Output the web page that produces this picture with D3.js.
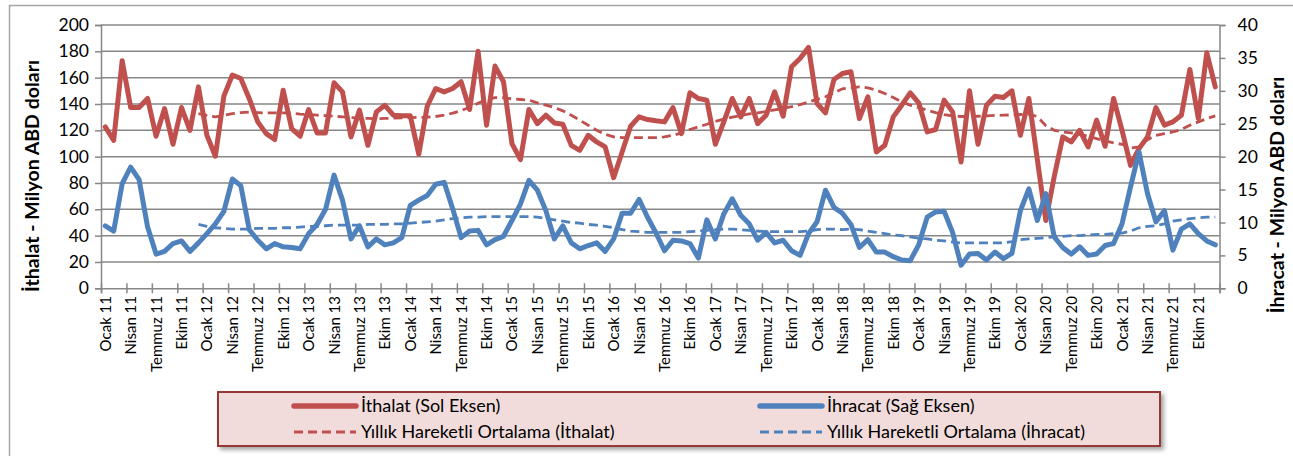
<!DOCTYPE html>
<html>
<head>
<meta charset="utf-8">
<script src="https://cdn.jsdelivr.net/npm/d3@7/dist/d3.min.js"></script>
<style>
  body { margin: 0; background: #fff; }
  svg { display: block; }
  text { font-family: Lato, "Open Sans", sans-serif; fill: #000; }
</style>
</head>
<body>
<svg id="chart" width="1293" height="456"></svg>
<script>
'use strict';

// monthly categories, Ocak 2011 .. Aralık 2021
const aylar = ["Ocak", "Şubat", "Mart", "Nisan", "Mayıs", "Haziran", "Temmuz", "Ağustos", "Eylül", "Ekim", "Kasım", "Aralık"];
const yillar = ["11", "12", "13", "14", "15", "16", "17", "18", "19", "20", "21"];

// İthalat, milyon ABD doları (sol eksen)
const ithalat = [
  122.6, 112.4, 172.8, 137.3, 137.3, 144.2, 115.5, 136.5, 109.4, 137.3, 120.0, 153.0,
  116.2, 100.3, 146.0, 162.0, 159.4, 144.0, 126.4, 117.5, 113.0, 150.5, 121.3, 115.5,
  135.8, 118.0, 118.0, 156.1, 149.2, 115.0, 135.3, 108.6, 134.0, 139.0, 131.5, 131.0,
  131.0, 101.8, 138.3, 151.8, 149.2, 151.8, 156.9, 135.8, 180.0, 123.9, 168.8, 156.9,
  109.9, 97.7, 135.8, 125.1, 131.5, 125.6, 124.6, 108.6, 104.8, 116.2, 111.2, 107.4,
  84.0, 103.6, 123.1, 130.2, 128.2, 127.2, 126.4, 137.3, 117.5, 148.5, 144.2, 142.9,
  109.4, 126.4, 144.2, 130.2, 144.2, 125.1, 131.5, 149.2, 130.7, 168.3, 174.6, 183.0,
  140.4, 133.2, 158.6, 163.2, 164.5, 128.9, 145.4, 103.6, 108.6, 130.2, 139.1, 148.5,
  140.9, 118.8, 120.6, 142.9, 134.0, 95.9, 150.0, 109.4, 139.1, 145.9, 144.9, 150.0,
  116.2, 144.2, 98.0, 51.5, 85.0, 115.0, 111.2, 120.0, 107.4, 127.7, 107.9, 144.2,
  120.0, 93.4, 106.1, 115.0, 137.3, 123.9, 126.4, 131.5, 166.2, 128.9, 178.9, 153.0
];

// İhracat, milyon ABD doları (sağ eksen)
const ihracat = [
  9.5, 8.7, 15.9, 18.4, 16.5, 9.3, 5.2, 5.6, 6.8, 7.2, 5.6, 6.9,
  8.3, 9.8, 11.7, 16.6, 15.6, 8.9, 7.3, 6.0, 6.8, 6.3, 6.2, 6.0,
  8.3, 9.7, 12.0, 17.2, 13.4, 7.5, 9.5, 6.3, 7.5, 6.6, 6.9, 7.7,
  12.6, 13.4, 14.1, 15.8, 16.1, 12.1, 7.7, 8.7, 8.8, 6.6, 7.4, 7.9,
  10.3, 12.8, 16.4, 14.9, 11.8, 7.5, 9.5, 6.9, 6.0, 6.5, 6.9, 5.6,
  7.5, 11.4, 11.4, 13.5, 10.8, 8.4, 5.7, 7.3, 7.2, 6.8, 4.6, 10.4,
  7.5, 11.3, 13.6, 11.1, 9.8, 7.3, 8.5, 6.9, 7.3, 5.7, 5.0, 8.3,
  10.1, 14.9, 12.3, 11.4, 9.7, 6.2, 7.4, 5.5, 5.5, 4.8, 4.3, 4.2,
  6.6, 10.8, 11.6, 11.7, 8.5, 3.5, 5.2, 5.3, 4.3, 5.5, 4.5, 5.3,
  11.8, 15.1, 10.3, 14.4, 7.8, 6.2, 5.2, 6.3, 5.0, 5.2, 6.5, 6.8,
  9.8, 15.4, 20.7, 14.4, 10.1, 11.8, 5.8, 9.0, 9.8, 8.3, 7.2, 6.6
];

// yıllık hareketli ortalamalar, Aralık 2011'den başlar
const maBaslangic = 11;
const ithalatOrt = [
  132.7,
  131.3, 130.3, 131.3, 132.7, 133.5, 133.9, 133.5, 133.2, 133.2, 133.2, 133.0, 132.3,
  132.0, 131.5, 131.2, 130.7, 130.2, 129.7, 129.3, 129.0, 128.8, 129.0, 129.3, 129.5,
  129.7, 129.8, 130.0, 130.5, 131.5, 133.0, 135.0, 137.5, 140.5, 143.4, 144.9, 144.7,
  143.9, 143.4, 142.9, 140.9, 139.1, 137.3, 134.8, 131.5, 127.7, 123.9, 120.0, 117.0,
  115.0, 114.5, 114.5, 114.5, 114.5, 114.5, 115.0, 116.2, 118.0, 120.6, 122.6, 124.6,
  126.8, 128.5, 130.0, 131.3, 132.5, 133.3, 134.3, 135.5, 136.7, 138.0, 139.5, 141.5,
  143.5, 145.5, 148.5, 151.5, 152.3, 153.0, 152.3, 150.5, 148.0, 144.9, 141.6, 139.1,
  137.3, 135.3, 133.5, 132.0, 131.0, 130.5, 130.5, 130.7, 131.0, 131.3, 131.5, 131.7,
  132.0, 132.3, 130.5, 123.5, 120.0, 118.8, 118.0, 117.0, 115.5, 113.7, 111.9, 110.4,
  109.4, 106.6, 107.4, 112.9, 116.2, 117.5, 118.8, 120.6, 123.9, 126.4, 128.9, 131.0
];
const ihracatOrt = [
  9.7,
  9.4, 9.2, 9.1, 9.0, 9.0, 9.0, 9.1, 9.1, 9.1, 9.2, 9.2, 9.3,
  9.4, 9.4, 9.5, 9.6, 9.6, 9.6, 9.6, 9.7, 9.7, 9.7, 9.8, 9.8,
  9.9, 10.0, 10.1, 10.2, 10.4, 10.6, 10.7, 10.8, 10.8, 10.9, 10.9, 10.9,
  10.9, 10.9, 10.9, 10.8, 10.6, 10.4, 10.2, 10.0, 9.9, 9.7, 9.6, 9.4,
  9.2, 8.9, 8.7, 8.6, 8.5, 8.5, 8.5, 8.5, 8.5, 8.6, 8.7, 8.8,
  8.9, 9.0, 9.0, 8.9, 8.8, 8.7, 8.6, 8.6, 8.6, 8.6, 8.6, 8.7,
  8.9, 9.0, 9.0, 8.9, 9.0, 8.9, 8.7, 8.5, 8.3, 8.1, 8.0, 7.8,
  7.6, 7.5, 7.3, 7.2, 7.0, 6.9, 6.9, 6.9, 6.9, 6.9, 6.9, 7.1,
  7.4, 7.5, 7.6, 7.7, 7.8, 7.9, 8.0, 8.0, 8.1, 8.2, 8.2, 8.3,
  8.4, 8.7, 9.2, 9.4, 9.5, 9.8, 10.2, 10.4, 10.6, 10.7, 10.8, 10.8
];

const solTikler = d3.range(0, 201, 20);
const sagTikler = d3.range(0, 41, 5);

const kategoriler = [];
yillar.forEach(y => aylar.forEach(a => kategoriler.push(a + " " + y)));

const kirmizi = "#C0504D", mavi = "#4F81BD", izgara = "#878787";

const svg = d3.select("#chart");
const plotSol = 101, plotSag = 1219.5, plotUst = 25, plotAlt = 288.3;

const x = d3.scaleLinear().domain([0, kategoriler.length]).range([plotSol, plotSag]);
const ySol = d3.scaleLinear().domain([0, 200]).range([plotAlt, plotUst]);
const ySag = d3.scaleLinear().domain([0, 40]).range([plotAlt, plotUst]);

// outer frame
svg.append("rect")
  .attr("x", 9.5).attr("y", 5.5).attr("width", 1290).attr("height", 470)
  .attr("fill", "none").attr("stroke", "#a6a6a6").attr("stroke-width", 1.5);

// horizontal grid
svg.append("g")
  .selectAll("line")
  .data(solTikler.filter(d => d > 0))
  .join("line")
  .attr("x1", plotSol).attr("x2", plotSag)
  .attr("y1", d => ySol(d)).attr("y2", d => ySol(d))
  .attr("stroke", izgara).attr("stroke-width", 1.5);

// left axis
const solEksen = svg.append("g")
  .attr("transform", `translate(${plotSol},0)`)
  .call(d3.axisLeft(ySol).tickValues(solTikler).tickSize(6).tickPadding(6));
solEksen.selectAll("text").style("font-size", "17.5px");

// right axis
const sagEksen = svg.append("g")
  .attr("transform", `translate(${plotSag},0)`)
  .call(d3.axisRight(ySag).tickValues(sagTikler).tickSize(6).tickPadding(12));
sagEksen.selectAll("text").style("font-size", "17.5px");

// bottom axis, ticks every 3 months crossing the line
const altEksen = svg.append("g")
  .attr("transform", `translate(0,${plotAlt})`)
  .call(d3.axisBottom(x).tickValues(d3.range(0, kategoriler.length + 1, 3)).tickSize(5).tickFormat(""));
altEksen.selectAll(".tick line").attr("y1", -5);

[solEksen, sagEksen, altEksen].forEach(g => {
  g.select(".domain").attr("stroke", izgara).attr("stroke-width", 1.5);
  g.selectAll(".tick line").attr("stroke", izgara).attr("stroke-width", 1.5);
});

// category labels
svg.append("g")
  .selectAll("text")
  .data(kategoriler.map((k, i) => ({ k, i })).filter(d => d.i % 3 === 0))
  .join("text")
  .attr("transform", d => `translate(${x(d.i + 0.5) + 5.5},296) rotate(-90)`)
  .attr("text-anchor", "end")
  .style("font-size", "15px")
  .text(d => d.k);

// axis titles
svg.append("text")
  .attr("transform", "translate(39,176) rotate(-90)")
  .attr("text-anchor", "middle")
  .style("font-size", "19.5px").style("font-weight", "bold")
  .text("İthalat - Milyon  ABD doları");
svg.append("text")
  .attr("transform", "translate(1284,195) rotate(-90)")
  .attr("text-anchor", "middle")
  .style("font-size", "19.5px").style("font-weight", "bold")
  .text("İhracat - Milyon ABD doları");

// series
const solCizgi = d3.line().x((d, i) => x(i + 0.5)).y(d => ySol(d));
const sagCizgi = d3.line().x((d, i) => x(i + 0.5)).y(d => ySag(d));
const solOrt = d3.line().x((d, i) => x(i + maBaslangic + 0.5)).y(d => ySol(d));
const sagOrt = d3.line().x((d, i) => x(i + maBaslangic + 0.5)).y(d => ySag(d));

svg.append("path").datum(ithalat)
  .attr("d", solCizgi).attr("fill", "none")
  .attr("stroke", kirmizi).attr("stroke-width", 5).attr("stroke-linejoin", "round").attr("stroke-linecap", "round");
svg.append("path").datum(ihracat)
  .attr("d", sagCizgi).attr("fill", "none")
  .attr("stroke", mavi).attr("stroke-width", 5).attr("stroke-linejoin", "round").attr("stroke-linecap", "round");
svg.append("path").datum(ithalatOrt)
  .attr("d", solOrt).attr("fill", "none")
  .attr("stroke", kirmizi).attr("stroke-width", 2.8).attr("stroke-dasharray", "9,5");
svg.append("path").datum(ihracatOrt)
  .attr("d", sagOrt).attr("fill", "none")
  .attr("stroke", mavi).attr("stroke-width", 2.8).attr("stroke-dasharray", "9,5");

// legend
const defs = svg.append("defs");
const f = defs.append("filter").attr("id", "golge").attr("x", "-5%").attr("y", "-20%").attr("width", "110%").attr("height", "150%");
f.append("feDropShadow").attr("dx", 3).attr("dy", 3).attr("stdDeviation", 2).attr("flood-color", "#000").attr("flood-opacity", 0.35);

const lg = svg.append("g");
lg.append("rect")
  .attr("x", 218).attr("y", 392).attr("width", 942).attr("height", 54)
  .attr("fill", "#F2DCDB").attr("stroke", "#953735").attr("stroke-width", 2)
  .attr("filter", "url(#golge)");

const legendItems = [
  { ad: "İthalat (Sol Eksen)", renk: kirmizi, kesik: false, x0: 292, y: 406 },
  { ad: "İhracat (Sağ Eksen)", renk: mavi, kesik: false, x0: 758, y: 406 },
  { ad: "Yıllık Hareketli Ortalama (İthalat)", renk: kirmizi, kesik: true, x0: 292, y: 432 },
  { ad: "Yıllık Hareketli Ortalama (İhracat)", renk: mavi, kesik: true, x0: 758, y: 432 }
];
const li = lg.selectAll("g.item").data(legendItems).join("g").attr("class", "item");
li.append("line")
  .attr("x1", d => d.x0 + 2).attr("x2", d => d.x0 + 64)
  .attr("y1", d => d.y).attr("y2", d => d.y)
  .attr("stroke", d => d.renk)
  .attr("stroke-width", d => d.kesik ? 2.8 : 5.5)
  .attr("stroke-linecap", d => d.kesik ? "butt" : "round")
  .attr("stroke-dasharray", d => d.kesik ? "9,5" : null);
li.append("text")
  .attr("x", d => d.x0 + 69).attr("y", d => d.y + 6)
  .style("font-size", "18px")
  .text(d => d.ad);
</script>
</body>
</html>
